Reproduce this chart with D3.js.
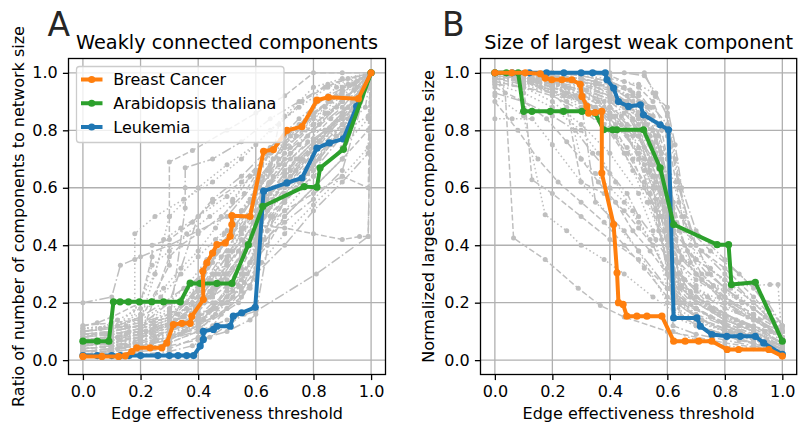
<!DOCTYPE html>
<html>
<head>
<meta charset="utf-8">
<script src="https://cdn.jsdelivr.net/npm/d3@7"></script>
<style>
  html, body { margin: 0; padding: 0; background: #fff; }
  svg { display: block; font-family: "DejaVu Sans", sans-serif; }
</style>
</head>
<body>
<svg id="chart" width="799" height="430"></svg>
<script>
// ---------------- DATA ----------------
const tickValues = [0.0, 0.2, 0.4, 0.6, 0.8, 1.0];
const seriesNames = ["Breast Cancer", "Arabidopsis thaliana", "Leukemia"];

// Panel A – ratio of number of weakly connected components to network size
const breastA_x = [0,0.066,0.124,0.147,0.17,0.187,0.233,0.274,0.291,0.314,0.343,0.372,0.378,0.418,0.416,0.43,0.45,0.465,0.494,0.511,0.517,0.517,0.58,0.627,0.661,0.708,0.76,0.812,0.852,0.956,1.0];
const breastA_y = [0.013,0.013,0.013,0.015,0.03,0.043,0.043,0.043,0.06,0.124,0.128,0.128,0.153,0.211,0.309,0.339,0.373,0.402,0.408,0.431,0.472,0.503,0.5,0.727,0.733,0.8,0.813,0.905,0.915,0.91,1.0];
const arabA_x = [0,0.05,0.09,0.106,0.129,0.158,0.196,0.239,0.28,0.338,0.372,0.407,0.465,0.517,0.574,0.624,0.768,0.812,0.823,0.904,1.0];
const arabA_y = [0.066,0.066,0.066,0.203,0.203,0.203,0.203,0.203,0.203,0.203,0.268,0.267,0.267,0.267,0.402,0.535,0.604,0.602,0.669,0.734,1.0];
const leukA_x = [0,0.05,0.1,0.13,0.16,0.2,0.26,0.3,0.33,0.36,0.384,0.407,0.418,0.418,0.453,0.465,0.511,0.522,0.551,0.598,0.627,0.708,0.76,0.812,0.855,0.904,0.95,1.0];
const leukA_y = [0.016,0.016,0.016,0.016,0.016,0.016,0.016,0.016,0.016,0.016,0.016,0.049,0.072,0.1,0.107,0.118,0.118,0.153,0.165,0.184,0.588,0.617,0.634,0.738,0.756,0.77,0.883,1.0];

// Panel B – normalized size of the largest weak component
const breastB_x = [0,0.059,0.106,0.158,0.175,0.198,0.233,0.268,0.297,0.303,0.32,0.326,0.349,0.372,0.372,0.413,0.425,0.43,0.446,0.459,0.494,0.529,0.581,0.622,0.662,0.709,0.755,0.808,0.848,0.953,1.0];
const breastB_y = [1.0,1.0,1.0,0.997,0.982,0.976,0.976,0.976,0.96,0.918,0.883,0.86,0.862,0.866,0.651,0.472,0.304,0.2,0.194,0.153,0.153,0.153,0.153,0.066,0.066,0.066,0.066,0.037,0.037,0.037,0.014];
const arabB_x = [0,0.04,0.081,0.1,0.129,0.193,0.239,0.303,0.349,0.378,0.41,0.424,0.517,0.575,0.622,0.773,0.813,0.823,0.906,1.0];
const arabB_y = [1.0,1.0,1.0,0.866,0.866,0.866,0.866,0.866,0.86,0.802,0.802,0.802,0.802,0.669,0.472,0.402,0.402,0.263,0.271,0.066];
const leukB_x = [0,0.06,0.12,0.18,0.24,0.3,0.34,0.384,0.39,0.413,0.43,0.465,0.506,0.517,0.575,0.604,0.622,0.703,0.715,0.755,0.807,0.854,0.906,0.935,1.0];
const leukB_y = [1.0,1.0,1.0,1.0,1.0,1.0,1.0,1.0,0.976,0.947,0.9,0.883,0.889,0.854,0.819,0.802,0.147,0.147,0.118,0.089,0.083,0.083,0.083,0.06,0.02];

// Background networks (grey), panel A
const greyA = [
  [[0,0.03],[0.1,0.04],[0.2,0.05],[0.3,0.07],[0.4,0.12],[0.5,0.25],[0.55,0.35],[0.6,0.45],[0.7,0.6],[0.8,0.72],[0.9,0.85],[1,1]],
  [[0,0.06],[0.1,0.07],[0.2,0.09],[0.3,0.12],[0.36,0.18],[0.42,0.26],[0.5,0.38],[0.58,0.5],[0.62,0.62],[0.72,0.72],[0.82,0.82],[0.92,0.92],[1,1]],
  [[0,0.1],[0.12,0.12],[0.2,0.15],[0.28,0.2],[0.35,0.25],[0.42,0.3],[0.5,0.42],[0.6,0.55],[0.7,0.7],[0.8,0.8],[0.9,0.9],[1,1]],
  [[0,0.02],[0.1,0.02],[0.2,0.03],[0.3,0.04],[0.4,0.08],[0.45,0.12],[0.5,0.18],[0.55,0.22],[0.6,0.3],[0.65,0.5],[0.75,0.62],[0.85,0.75],[0.95,0.9],[1,1]],
  [[0,0.08],[0.08,0.09],[0.16,0.1],[0.25,0.12],[0.33,0.16],[0.4,0.22],[0.47,0.3],[0.55,0.42],[0.6,0.52],[0.66,0.64],[0.75,0.75],[0.85,0.86],[0.95,0.95],[1,1]],
  [[0,0.2],[0.1,0.22],[0.13,0.33],[0.2,0.36],[0.3,0.4],[0.4,0.45],[0.5,0.5],[0.6,0.62],[0.7,0.75],[0.8,0.85],[0.9,0.95],[1,1]],
  [[0,0.12],[0.1,0.13],[0.2,0.14],[0.3,0.33],[0.3,0.5],[0.3,0.69],[0.38,0.73],[0.5,0.8],[0.6,0.86],[0.7,0.92],[0.8,1.0],[0.9,1.0],[1,1]],
  [[0,0.04],[0.1,0.05],[0.18,0.06],[0.18,0.35],[0.18,0.44],[0.25,0.5],[0.35,0.56],[0.45,0.62],[0.55,0.7],[0.65,0.8],[0.75,0.88],[0.85,0.95],[1,1]],
  [[0,0.02],[0.2,0.05],[0.4,0.1],[0.5,0.14],[0.6,0.17],[0.81,0.3],[0.99,0.43],[1,1]],
  [[0,0.05],[0.2,0.08],[0.35,0.15],[0.45,0.3],[0.52,0.38],[0.6,0.47],[0.7,0.46],[0.8,0.44],[0.9,0.42],[0.96,0.43],[0.99,0.43],[1,1]],
  [[0,0.07],[0.1,0.08],[0.2,0.1],[0.3,0.14],[0.38,0.2],[0.44,0.28],[0.5,0.34],[0.56,0.4],[0.62,0.5],[0.7,0.58],[0.8,0.68],[0.88,0.78],[0.99,0.85],[1,1]],
  [[0,0.09],[0.1,0.1],[0.2,0.12],[0.3,0.16],[0.4,0.24],[0.48,0.36],[0.55,0.46],[0.6,0.55],[0.65,0.62],[0.72,0.7],[0.8,0.77],[0.9,0.84],[1,1]],
  [[0,0.05],[0.1,0.06],[0.2,0.08],[0.3,0.1],[0.4,0.16],[0.5,0.2],[0.58,0.25],[0.62,0.4],[0.7,0.5],[0.8,0.6],[0.9,0.7],[1,1]],
  [[0,0.11],[0.1,0.12],[0.2,0.16],[0.27,0.22],[0.34,0.3],[0.4,0.36],[0.46,0.42],[0.52,0.48],[0.58,0.55],[0.64,0.66],[0.72,0.78],[0.8,0.88],[0.88,0.95],[1,1]],
  [[0,0.01],[0.1,0.02],[0.2,0.02],[0.3,0.03],[0.38,0.05],[0.44,0.08],[0.5,0.12],[0.56,0.16],[0.6,0.2],[0.62,0.45],[0.7,0.55],[0.8,0.66],[0.9,0.78],[1,1]],
  [[0,0.04],[0.15,0.05],[0.25,0.08],[0.35,0.12],[0.42,0.2],[0.5,0.3],[0.56,0.38],[0.6,0.44],[0.66,0.56],[0.74,0.66],[0.82,0.76],[0.9,0.86],[0.97,0.93],[1,1]],
  [[0,0.08],[0.1,0.1],[0.2,0.2],[0.24,0.33],[0.3,0.38],[0.36,0.44],[0.44,0.5],[0.52,0.56],[0.6,0.66],[0.7,0.76],[0.8,0.84],[0.9,0.92],[1,1]],
  [[0,0.06],[0.1,0.07],[0.2,0.09],[0.3,0.13],[0.355,0.53],[0.355,0.6],[0.355,0.67],[0.45,0.7],[0.55,0.76],[0.65,0.84],[0.75,0.9],[0.85,0.96],[1,1]],
  [[0,0.03],[0.1,0.03],[0.2,0.04],[0.3,0.06],[0.4,0.1],[0.45,0.15],[0.5,0.22],[0.55,0.3],[0.6,0.36],[0.64,0.6],[0.7,0.68],[0.78,0.76],[0.86,0.84],[0.94,0.9],[1,1]],
  [[0,0.1],[0.1,0.11],[0.2,0.13],[0.3,0.18],[0.4,0.28],[0.5,0.45],[0.55,0.52],[0.6,0.6],[0.68,0.7],[0.76,0.8],[0.84,0.88],[0.92,0.96],[1,1]],
  [[0,0.06],[0.2,0.07],[0.3,0.1],[0.4,0.15],[0.5,0.22],[0.6,0.3],[0.7,0.4],[0.8,0.52],[0.9,0.62],[0.99,0.72],[1,1]],
  [[0,0.12],[0.05,0.13],[0.1,0.15],[0.2,0.2],[0.24,0.36],[0.24,0.4],[0.3,0.42],[0.38,0.48],[0.45,0.55],[0.55,0.62],[0.65,0.72],[0.75,0.82],[0.85,0.9],[1,1]],
  [[0,0.07],[0.12,0.08],[0.22,0.1],[0.32,0.14],[0.4,0.19],[0.46,0.25],[0.52,0.32],[0.58,0.4],[0.62,0.5],[0.68,0.6],[0.76,0.7],[0.84,0.8],[0.92,0.88],[1,1]],
  [[0,0.02],[0.1,0.03],[0.2,0.04],[0.3,0.05],[0.4,0.07],[0.5,0.1],[0.58,0.14],[0.6,0.16],[0.66,0.5],[0.74,0.6],[0.82,0.7],[0.9,0.8],[0.98,0.88],[1,1]],
  [[0,0.09],[0.1,0.1],[0.2,0.12],[0.3,0.15],[0.4,0.2],[0.48,0.27],[0.55,0.35],[0.62,0.45],[0.7,0.52],[0.8,0.58],[0.9,0.64],[0.99,0.6],[1,1]],
  [[0,0.05],[0.1,0.06],[0.2,0.07],[0.3,0.09],[0.4,0.14],[0.46,0.2],[0.52,0.27],[0.58,0.34],[0.62,0.42],[0.7,0.52],[0.8,0.64],[0.9,0.74],[0.99,0.84],[1,1]],
  [[0,0.08],[0.1,0.09],[0.2,0.11],[0.3,0.15],[0.4,0.25],[0.45,0.34],[0.5,0.42],[0.55,0.5],[0.6,0.58],[0.65,0.68],[0.7,0.76],[0.78,0.84],[0.86,0.9],[0.94,0.96],[1,1]],
  [[0,0.04],[0.15,0.05],[0.3,0.08],[0.4,0.12],[0.5,0.18],[0.55,0.24],[0.6,0.32],[0.64,0.45],[0.7,0.55],[0.78,0.65],[0.86,0.75],[0.94,0.85],[1,1]],
  [[0,0.1],[0.06,0.11],[0.12,0.14],[0.2,0.18],[0.28,0.25],[0.34,0.32],[0.4,0.38],[0.46,0.46],[0.52,0.55],[0.58,0.64],[0.64,0.72],[0.72,0.8],[0.8,0.86],[0.9,0.93],[1,1]],
  [[0,0.03],[0.1,0.04],[0.2,0.05],[0.3,0.08],[0.4,0.13],[0.48,0.2],[0.55,0.3],[0.6,0.38],[0.63,0.55],[0.7,0.65],[0.8,0.75],[0.9,0.85],[1,1]],
  [[0,0.06],[0.2,0.08],[0.3,0.36],[0.34,0.4],[0.4,0.44],[0.48,0.5],[0.56,0.58],[0.62,0.68],[0.7,0.78],[0.8,0.86],[0.9,0.94],[1,1]],
  [[0,0.11],[0.1,0.12],[0.2,0.14],[0.25,0.3],[0.28,0.42],[0.34,0.46],[0.4,0.5],[0.5,0.57],[0.6,0.65],[0.7,0.74],[0.8,0.82],[0.9,0.9],[1,1]],
  [[0,0.05],[0.2,0.06],[0.35,0.1],[0.45,0.2],[0.5,0.35],[0.6,0.48],[0.7,0.62],[0.8,0.74],[0.9,0.86],[0.99,0.95],[1,1]],
  [[0,0.07],[0.15,0.09],[0.3,0.12],[0.4,0.2],[0.48,0.28],[0.55,0.36],[0.6,0.42],[0.68,0.82],[0.76,0.9],[0.84,0.95],[0.92,0.98],[1,1]],
  [[0,0.04],[0.1,0.05],[0.2,0.07],[0.3,0.1],[0.4,0.18],[0.45,0.25],[0.5,0.33],[0.55,0.45],[0.6,0.55],[0.65,0.62],[0.75,0.7],[0.85,0.8],[0.95,0.9],[1,1]],
  [[0,0.06],[0.1,0.06],[0.2,0.08],[0.3,0.11],[0.38,0.15],[0.44,0.22],[0.5,0.28],[0.56,0.36],[0.6,0.48],[0.62,0.58],[0.7,0.66],[0.8,0.76],[0.9,0.86],[1,1]],
  [[0,0.09],[0.1,0.09],[0.2,0.11],[0.3,0.14],[0.38,0.22],[0.43,0.32],[0.48,0.4],[0.53,0.47],[0.58,0.56],[0.62,0.64],[0.7,0.74],[0.8,0.82],[0.9,0.9],[1,1]],
  [[0,0.03],[0.12,0.04],[0.24,0.06],[0.34,0.09],[0.42,0.14],[0.48,0.2],[0.54,0.26],[0.58,0.34],[0.61,0.46],[0.64,0.55],[0.72,0.64],[0.82,0.74],[0.92,0.84],[1,1]],
  [[0,0.07],[0.1,0.08],[0.2,0.09],[0.3,0.12],[0.4,0.2],[0.46,0.3],[0.51,0.38],[0.56,0.46],[0.6,0.52],[0.66,0.6],[0.74,0.7],[0.84,0.8],[0.94,0.9],[1,1]],
  [[0,0.1],[0.1,0.11],[0.2,0.12],[0.3,0.15],[0.36,0.2],[0.42,0.3],[0.47,0.38],[0.52,0.44],[0.57,0.5],[0.61,0.6],[0.68,0.68],[0.78,0.78],[0.88,0.88],[1,1]],
  [[0,0.02],[0.1,0.03],[0.2,0.04],[0.3,0.06],[0.4,0.1],[0.46,0.16],[0.52,0.22],[0.57,0.3],[0.6,0.4],[0.63,0.5],[0.7,0.58],[0.8,0.68],[0.9,0.8],[1,1]],
  [[0,0.05],[0.1,0.06],[0.2,0.08],[0.3,0.12],[0.39,0.18],[0.44,0.24],[0.49,0.3],[0.54,0.38],[0.59,0.48],[0.62,0.56],[0.7,0.62],[0.8,0.72],[0.9,0.82],[1,1]],
  [[0,0.08],[0.1,0.09],[0.2,0.1],[0.3,0.13],[0.4,0.17],[0.45,0.22],[0.5,0.26],[0.55,0.32],[0.6,0.42],[0.64,0.52],[0.72,0.62],[0.8,0.7],[0.9,0.8],[1,1]],
  [[0,0.11],[0.1,0.12],[0.2,0.14],[0.3,0.2],[0.37,0.27],[0.43,0.35],[0.49,0.44],[0.55,0.52],[0.6,0.6],[0.66,0.7],[0.74,0.78],[0.84,0.86],[0.94,0.94],[1,1]],
  [[0,0.04],[0.1,0.05],[0.2,0.06],[0.3,0.08],[0.4,0.11],[0.48,0.16],[0.54,0.2],[0.58,0.26],[0.6,0.3],[0.62,0.62],[0.7,0.72],[0.8,0.8],[0.9,0.88],[1,1]],
  [[0,0.06],[0.1,0.07],[0.2,0.09],[0.3,0.11],[0.4,0.15],[0.46,0.18],[0.52,0.24],[0.56,0.3],[0.6,0.38],[0.62,0.48],[0.7,0.56],[0.8,0.64],[0.9,0.74],[1,1]],
  [[0,0.09],[0.1,0.1],[0.2,0.12],[0.3,0.17],[0.4,0.26],[0.45,0.3],[0.5,0.36],[0.55,0.44],[0.6,0.5],[0.65,0.58],[0.72,0.66],[0.8,0.74],[0.9,0.82],[1,1]],
  [[0,0.03],[0.1,0.04],[0.2,0.05],[0.3,0.07],[0.4,0.12],[0.45,0.18],[0.5,0.24],[0.55,0.28],[0.6,0.34],[0.63,0.42],[0.7,0.48],[0.8,0.56],[0.9,0.66],[1,1]],
  [[0,0.07],[0.1,0.08],[0.2,0.1],[0.3,0.13],[0.4,0.18],[0.45,0.23],[0.5,0.3],[0.55,0.37],[0.6,0.45],[0.65,0.66],[0.72,0.74],[0.8,0.82],[0.9,0.9],[1,1]],
  [[0,0.05],[0.1,0.06],[0.2,0.07],[0.3,0.09],[0.4,0.13],[0.44,0.17],[0.5,0.2],[0.55,0.25],[0.6,0.28],[0.62,0.34],[0.7,0.44],[0.8,0.54],[0.9,0.64],[0.99,0.74],[1,1]],
  [[0,0.1],[0.1,0.11],[0.2,0.13],[0.3,0.16],[0.4,0.22],[0.45,0.27],[0.5,0.33],[0.56,0.41],[0.6,0.47],[0.64,0.56],[0.7,0.64],[0.78,0.72],[0.86,0.8],[0.94,0.88],[1,1]],
  [[0,0.06],[0.1,0.07],[0.2,0.08],[0.3,0.1],[0.4,0.14],[0.5,0.2],[0.56,0.27],[0.6,0.35],[0.64,0.4],[0.7,0.5],[0.8,0.6],[0.9,0.7],[0.99,0.8],[1,1]],
  [[0,0.1],[0.15,0.12],[0.25,0.3],[0.3,0.5],[0.4,0.6],[0.5,0.68],[0.6,0.75],[0.7,0.85],[0.8,0.95],[0.9,0.98],[1,1]],
  [[0,0.08],[0.2,0.12],[0.3,0.2],[0.4,0.5],[0.45,0.56],[0.55,0.64],[0.65,0.74],[0.75,0.84],[0.85,0.92],[0.95,0.97],[1,1]]
];

// Background networks (grey), panel B
const greyB = [
  [[0,1],[0.036,0.93],[0.065,0.425],[0.175,0.35],[0.29,0.25],[0.367,0.19],[0.45,0.15],[0.6,0.1],[0.8,0.06],[1,0.03]],
  [[0,0.84],[0.06,0.84],[0.13,0.84],[0.2,0.75],[0.3,0.62],[0.4,0.5],[0.5,0.38],[0.6,0.2],[0.7,0.14],[0.8,0.1],[0.9,0.07],[1,0.04]],
  [[0,1],[0.1,0.99],[0.2,0.97],[0.3,0.95],[0.4,0.92],[0.45,0.88],[0.5,0.8],[0.55,0.6],[0.6,0.3],[0.65,0.2],[0.75,0.15],[0.85,0.1],[0.95,0.06],[1,0.03]],
  [[0,1],[0.1,1],[0.2,0.99],[0.3,0.98],[0.4,0.96],[0.48,0.93],[0.54,0.85],[0.58,0.7],[0.62,0.45],[0.7,0.35],[0.8,0.28],[0.9,0.2],[1,0.1]],
  [[0,0.97],[0.1,0.95],[0.2,0.9],[0.3,0.82],[0.4,0.72],[0.5,0.58],[0.55,0.45],[0.6,0.25],[0.7,0.15],[0.8,0.1],[0.9,0.07],[1,0.04]],
  [[0,1],[0.12,0.98],[0.22,0.96],[0.32,0.94],[0.42,0.9],[0.5,0.86],[0.56,0.78],[0.6,0.6],[0.62,0.3],[0.7,0.22],[0.8,0.16],[0.9,0.12],[1,0.06]],
  [[0,0.95],[0.1,0.9],[0.18,0.84],[0.25,0.76],[0.3,0.7],[0.36,0.62],[0.42,0.55],[0.48,0.45],[0.54,0.38],[0.6,0.3],[0.7,0.2],[0.8,0.14],[0.9,0.1],[1,0.05]],
  [[0,0.92],[0.1,0.85],[0.175,0.506],[0.25,0.45],[0.3,0.4],[0.38,0.35],[0.45,0.3],[0.55,0.22],[0.65,0.15],[0.8,0.1],[1,0.05]],
  [[0,1],[0.1,1],[0.2,1],[0.3,1],[0.4,1],[0.52,1],[0.558,0.918],[0.6,0.88],[0.627,0.75],[0.65,0.6],[0.7,0.45],[0.8,0.35],[0.9,0.25],[1,0.12]],
  [[0,0.98],[0.1,0.96],[0.129,0.628],[0.2,0.58],[0.3,0.5],[0.4,0.42],[0.5,0.35],[0.6,0.25],[0.7,0.18],[0.8,0.12],[0.9,0.08],[1,0.03]],
  [[0,1],[0.1,0.99],[0.2,0.98],[0.3,0.96],[0.4,0.93],[0.45,0.9],[0.5,0.84],[0.55,0.75],[0.6,0.55],[0.63,0.35],[0.7,0.26],[0.8,0.26],[0.9,0.26],[0.957,0.263],[0.985,0.263],[1,0.05]],
  [[0,1],[0.15,0.97],[0.25,0.93],[0.35,0.88],[0.42,0.82],[0.5,0.72],[0.56,0.6],[0.6,0.45],[0.64,0.3],[0.7,0.2],[0.8,0.14],[0.9,0.1],[1,0.05]],
  [[0,1],[0.1,0.98],[0.2,0.95],[0.3,0.9],[0.38,0.82],[0.45,0.72],[0.52,0.6],[0.58,0.5],[0.62,0.4],[0.7,0.3],[0.78,0.22],[0.88,0.15],[1,0.08]],
  [[0,0.99],[0.08,0.97],[0.16,0.95],[0.24,0.92],[0.32,0.88],[0.4,0.84],[0.46,0.78],[0.52,0.7],[0.56,0.62],[0.6,0.5],[0.62,0.1],[0.7,0.07],[0.8,0.05],[0.9,0.04],[1,0.02]],
  [[0,1],[0.1,1],[0.2,0.99],[0.3,0.97],[0.4,0.95],[0.48,0.92],[0.55,0.88],[0.6,0.82],[0.64,0.6],[0.7,0.4],[0.8,0.3],[0.9,0.2],[1,0.1]],
  [[0,1],[0.05,0.99],[0.12,0.97],[0.2,0.95],[0.28,0.92],[0.35,0.88],[0.42,0.8],[0.48,0.7],[0.54,0.55],[0.6,0.35],[0.65,0.15],[0.75,0.1],[0.85,0.07],[1,0.03]],
  [[0,0.96],[0.1,0.93],[0.2,0.88],[0.3,0.8],[0.36,0.72],[0.42,0.62],[0.48,0.52],[0.54,0.42],[0.6,0.3],[0.68,0.22],[0.76,0.17],[0.86,0.13],[0.96,0.1],[1,0.06]],
  [[0,1],[0.1,0.99],[0.2,0.96],[0.3,0.9],[0.35,0.55],[0.4,0.5],[0.45,0.45],[0.5,0.38],[0.6,0.25],[0.7,0.18],[0.8,0.12],[1,0.05]],
  [[0,1],[0.1,1],[0.2,0.98],[0.3,0.96],[0.4,0.92],[0.45,0.88],[0.5,0.82],[0.55,0.72],[0.58,0.6],[0.6,0.5],[0.62,0.25],[0.7,0.18],[0.8,0.13],[0.9,0.09],[1,0.05]],
  [[0,1],[0.1,0.98],[0.2,0.94],[0.25,0.9],[0.3,0.7],[0.35,0.65],[0.4,0.6],[0.45,0.55],[0.5,0.48],[0.55,0.4],[0.6,0.3],[0.7,0.2],[0.8,0.15],[0.9,0.1],[1,0.05]],
  [[0,0.98],[0.1,0.97],[0.2,0.94],[0.3,0.9],[0.4,0.85],[0.5,0.78],[0.55,0.7],[0.6,0.6],[0.65,0.5],[0.7,0.4],[0.75,0.3],[0.8,0.25],[0.9,0.18],[1,0.1]],
  [[0,1],[0.2,1],[0.3,0.99],[0.4,0.97],[0.45,0.95],[0.5,0.92],[0.55,0.85],[0.6,0.7],[0.62,0.55],[0.66,0.4],[0.72,0.3],[0.8,0.22],[0.9,0.15],[1,0.08]],
  [[0,1],[0.1,1],[0.2,0.99],[0.3,0.98],[0.35,0.97],[0.4,0.95],[0.5,0.9],[0.55,0.8],[0.58,0.65],[0.6,0.4],[0.62,0.15],[0.7,0.12],[0.8,0.09],[0.9,0.07],[1,0.04]],
  [[0,0.93],[0.1,0.9],[0.2,0.85],[0.28,0.8],[0.34,0.72],[0.4,0.65],[0.46,0.58],[0.5,0.5],[0.56,0.42],[0.62,0.32],[0.7,0.24],[0.8,0.18],[0.9,0.14],[1,0.1]],
  [[0,1],[0.1,0.99],[0.2,0.97],[0.3,0.94],[0.38,0.9],[0.44,0.85],[0.5,0.78],[0.54,0.7],[0.58,0.58],[0.6,0.45],[0.63,0.2],[0.7,0.15],[0.8,0.11],[0.9,0.08],[1,0.05]],
  [[0,1],[0.1,1],[0.2,1],[0.3,0.99],[0.4,0.98],[0.5,0.96],[0.55,0.93],[0.6,0.86],[0.63,0.7],[0.66,0.5],[0.7,0.35],[0.8,0.28],[0.9,0.2],[1,0.12]],
  [[0,1],[0.12,1],[0.22,0.98],[0.3,0.95],[0.36,0.9],[0.42,0.85],[0.48,0.78],[0.54,0.68],[0.58,0.55],[0.6,0.42],[0.62,0.12],[0.7,0.09],[0.8,0.07],[0.9,0.05],[1,0.03]],
  [[0,0.9],[0.08,0.8],[0.15,0.7],[0.22,0.62],[0.3,0.55],[0.38,0.48],[0.45,0.4],[0.52,0.32],[0.6,0.22],[0.7,0.15],[0.8,0.1],[1,0.05]],
  [[0,1],[0.1,0.99],[0.2,0.97],[0.3,0.94],[0.4,0.9],[0.5,0.85],[0.56,0.78],[0.6,0.7],[0.64,0.55],[0.68,0.4],[0.75,0.32],[0.82,0.25],[0.9,0.18],[1,0.1]],
  [[0,0.99],[0.1,0.98],[0.2,0.96],[0.3,0.93],[0.4,0.88],[0.46,0.82],[0.52,0.74],[0.56,0.64],[0.6,0.52],[0.62,0.35],[0.66,0.28],[0.74,0.22],[0.84,0.17],[0.94,0.12],[1,0.08]],
  [[0,1],[0.1,1],[0.2,1],[0.3,1],[0.4,0.99],[0.45,0.97],[0.5,0.95],[0.55,0.9],[0.6,0.78],[0.63,0.62],[0.66,0.45],[0.72,0.38],[0.8,0.32],[0.9,0.22],[1,0.11]],
  [[0,0.97],[0.1,0.96],[0.2,0.93],[0.3,0.88],[0.4,0.8],[0.46,0.74],[0.52,0.66],[0.57,0.5],[0.6,0.32],[0.65,0.25],[0.75,0.18],[0.85,0.12],[1,0.06]],
  [[0,1],[0.1,1],[0.2,0.99],[0.3,0.97],[0.4,0.93],[0.45,0.88],[0.5,0.78],[0.54,0.66],[0.58,0.5],[0.61,0.32],[0.64,0.2],[0.72,0.14],[0.82,0.1],[0.92,0.07],[1,0.04]],
  [[0,1],[0.1,0.99],[0.2,0.98],[0.3,0.96],[0.4,0.94],[0.46,0.9],[0.52,0.82],[0.56,0.72],[0.6,0.55],[0.62,0.4],[0.66,0.28],[0.74,0.2],[0.84,0.14],[0.94,0.1],[1,0.05]],
  [[0,0.99],[0.1,0.98],[0.2,0.96],[0.3,0.92],[0.38,0.88],[0.44,0.82],[0.5,0.72],[0.55,0.6],[0.59,0.45],[0.62,0.3],[0.68,0.22],[0.78,0.16],[0.88,0.12],[1,0.06]],
  [[0,1],[0.1,1],[0.2,1],[0.3,0.99],[0.4,0.97],[0.47,0.94],[0.53,0.88],[0.57,0.78],[0.6,0.62],[0.62,0.45],[0.65,0.35],[0.72,0.28],[0.82,0.2],[0.92,0.14],[1,0.08]],
  [[0,1],[0.1,0.99],[0.2,0.97],[0.3,0.93],[0.4,0.86],[0.45,0.8],[0.5,0.7],[0.54,0.58],[0.58,0.42],[0.61,0.25],[0.65,0.15],[0.75,0.1],[0.85,0.07],[1,0.04]],
  [[0,0.98],[0.1,0.97],[0.2,0.95],[0.3,0.92],[0.4,0.88],[0.48,0.84],[0.54,0.76],[0.58,0.66],[0.6,0.56],[0.62,0.4],[0.64,0.3],[0.7,0.25],[0.8,0.2],[0.9,0.15],[1,0.08]],
  [[0,1],[0.1,1],[0.2,0.99],[0.3,0.98],[0.4,0.95],[0.46,0.92],[0.5,0.86],[0.55,0.74],[0.58,0.62],[0.6,0.48],[0.63,0.22],[0.7,0.16],[0.8,0.12],[0.9,0.08],[1,0.04]],
  [[0,0.97],[0.1,0.95],[0.2,0.92],[0.3,0.87],[0.4,0.8],[0.46,0.72],[0.52,0.62],[0.56,0.52],[0.6,0.4],[0.63,0.3],[0.68,0.24],[0.76,0.18],[0.86,0.13],[0.96,0.1],[1,0.07]],
  [[0,1],[0.1,1],[0.2,0.98],[0.3,0.96],[0.4,0.92],[0.44,0.9],[0.5,0.84],[0.54,0.78],[0.58,0.7],[0.61,0.58],[0.63,0.42],[0.68,0.34],[0.76,0.26],[0.86,0.2],[0.96,0.14],[1,0.1]],
  [[0,1],[0.1,0.98],[0.2,0.96],[0.3,0.93],[0.4,0.9],[0.45,0.86],[0.5,0.8],[0.55,0.68],[0.59,0.52],[0.62,0.18],[0.7,0.12],[0.8,0.09],[0.9,0.06],[1,0.03]],
  [[0,0.99],[0.1,0.97],[0.2,0.94],[0.3,0.9],[0.4,0.84],[0.46,0.78],[0.52,0.68],[0.56,0.56],[0.6,0.42],[0.64,0.34],[0.7,0.28],[0.8,0.22],[0.9,0.16],[1,0.1]],
  [[0,1],[0.1,1],[0.2,0.99],[0.3,0.97],[0.4,0.94],[0.45,0.9],[0.52,0.84],[0.56,0.76],[0.6,0.64],[0.62,0.5],[0.64,0.38],[0.7,0.3],[0.8,0.24],[0.9,0.18],[1,0.1]],
  [[0,0.96],[0.1,0.95],[0.2,0.93],[0.3,0.9],[0.4,0.86],[0.5,0.8],[0.55,0.72],[0.6,0.62],[0.64,0.45],[0.7,0.3],[0.8,0.2],[0.9,0.14],[1,0.08]],
  [[0,1],[0.15,0.99],[0.25,0.98],[0.35,0.96],[0.42,0.94],[0.48,0.9],[0.53,0.82],[0.57,0.7],[0.6,0.5],[0.62,0.28],[0.66,0.2],[0.75,0.15],[0.85,0.1],[1,0.05]],
  [[0,1],[0.1,0.99],[0.2,0.96],[0.3,0.92],[0.36,0.86],[0.42,0.78],[0.48,0.66],[0.53,0.55],[0.57,0.45],[0.6,0.36],[0.65,0.26],[0.75,0.18],[0.85,0.12],[1,0.06]],
  [[0,0.98],[0.1,0.97],[0.2,0.96],[0.3,0.94],[0.4,0.91],[0.5,0.86],[0.55,0.8],[0.58,0.72],[0.61,0.6],[0.63,0.48],[0.67,0.38],[0.74,0.3],[0.84,0.22],[0.94,0.15],[1,0.1]],
  [[0,1],[0.1,1],[0.2,0.99],[0.3,0.98],[0.4,0.96],[0.5,0.93],[0.54,0.88],[0.58,0.8],[0.6,0.7],[0.62,0.55],[0.64,0.25],[0.7,0.18],[0.8,0.13],[0.9,0.09],[1,0.05]],
  [[0,0.99],[0.1,0.98],[0.2,0.95],[0.3,0.91],[0.4,0.85],[0.46,0.8],[0.5,0.74],[0.55,0.64],[0.6,0.5],[0.65,0.36],[0.72,0.28],[0.8,0.22],[0.9,0.16],[1,0.1]],
  [[0,1],[0.2,1],[0.35,1],[0.45,1],[0.52,0.99],[0.56,0.93],[0.6,0.85],[0.64,0.62],[0.68,0.45],[0.75,0.38],[0.85,0.3],[0.95,0.2],[1,0.12]],
  [[0,1],[0.1,0.97],[0.2,0.93],[0.25,0.88],[0.3,0.62],[0.38,0.58],[0.45,0.52],[0.5,0.46],[0.55,0.4],[0.6,0.3],[0.7,0.22],[0.8,0.16],[0.9,0.11],[1,0.06]]
];

// ---------------- DRAWING ----------------
const svg = d3.select("#chart");
const colors = { breast: "#ff7f0e", arab: "#2ca02c", leuk: "#1f77b4" };
const greyColor = "#bfbfbf";
const dashCycle = ["5.9,2.6", "1.6,2.6", "10,2.6,1.6,2.6"];

function zip(xs, ys) { return xs.map((x, i) => [x, ys[i]]); }

function panel(opts) {
  const { left, right, top, bottom } = opts.box;
  const x = d3.scaleLinear().domain([-0.05, 1.05]).range([left, right]);
  const y = d3.scaleLinear().domain([-0.05, 1.05]).range([bottom, top]);
  const g = svg.append("g");

  g.append("g").selectAll("line").data(tickValues).join("line")
    .attr("x1", d => x(d)).attr("x2", d => x(d)).attr("y1", top).attr("y2", bottom)
    .attr("stroke", "#b0b0b0").attr("stroke-width", 1.3);
  g.append("g").selectAll("line").data(tickValues).join("line")
    .attr("y1", d => y(d)).attr("y2", d => y(d)).attr("x1", left).attr("x2", right)
    .attr("stroke", "#b0b0b0").attr("stroke-width", 1.3);

  const clipId = "clip" + opts.id;
  svg.append("clipPath").attr("id", clipId).append("rect")
    .attr("x", left).attr("y", top).attr("width", right - left).attr("height", bottom - top);
  const plot = g.append("g").attr("clip-path", `url(#${clipId})`);
  const line = d3.line().x(d => x(d[0])).y(d => y(d[1]));

  opts.grey.forEach((pts, i) => {
    plot.append("path").attr("d", line(pts)).attr("fill", "none")
      .attr("stroke", greyColor).attr("stroke-width", 1.5)
      .attr("stroke-dasharray", dashCycle[i % dashCycle.length]);
    plot.append("g").selectAll("circle").data(pts).join("circle")
      .attr("cx", d => x(d[0])).attr("cy", d => y(d[1])).attr("r", 2.5)
      .attr("fill", greyColor);
  });

  opts.main.forEach(s => {
    plot.append("path").attr("d", line(s.pts)).attr("fill", "none")
      .attr("stroke", s.color).attr("stroke-width", 4).attr("stroke-linejoin", "round");
    plot.append("g").selectAll("circle").data(s.pts).join("circle")
      .attr("cx", d => x(d[0])).attr("cy", d => y(d[1])).attr("r", 3.6)
      .attr("fill", s.color);
  });

  const xAxis = d3.axisBottom(x).tickValues(tickValues).tickFormat(d3.format(".1f"))
    .tickSize(5.6).tickPadding(5.2);
  const yAxis = d3.axisLeft(y).tickValues(tickValues).tickFormat(d3.format(".1f"))
    .tickSize(5.6).tickPadding(5.2);
  const gx = g.append("g").attr("transform", `translate(0,${bottom})`).call(xAxis);
  const gy = g.append("g").attr("transform", `translate(${left},0)`).call(yAxis);
  [gx, gy].forEach(ax => {
    ax.select(".domain").remove();
    ax.selectAll(".tick line").attr("stroke", "#000").attr("stroke-width", 1.3);
    ax.selectAll(".tick text").attr("fill", "#000")
      .style("font-size", "16px").style("font-family", "DejaVu Sans");
  });

  g.append("rect").attr("x", left).attr("y", top).attr("width", right - left)
    .attr("height", bottom - top).attr("fill", "none").attr("stroke", "#000").attr("stroke-width", 1.3);

  g.append("text").attr("x", (left + right) / 2).attr("y", 418.5)
    .attr("text-anchor", "middle").style("font-size", "16px").text("Edge effectiveness threshold");
  g.append("text").attr("transform", `translate(${opts.ylabX},${(top + bottom) / 2}) rotate(-90)`)
    .attr("text-anchor", "middle").style("font-size", "16px").text(opts.ylabel);
  g.append("text").attr("x", (left + right) / 2).attr("y", 48.5)
    .attr("text-anchor", "middle").style("font-size", "19.3px").text(opts.title);
  g.append("text").attr("x", opts.letterX).attr("y", 35.5)
    .style("font-size", "33px").attr("fill", "#262626").text(opts.letter);

  return { x, y, g };
}

panel({
  id: "A", box: { left: 68.5, right: 385.5, top: 58.5, bottom: 374.5 },
  grey: greyA,
  main: [
    { color: colors.leuk, pts: zip(leukA_x, leukA_y) },
    { color: colors.arab, pts: zip(arabA_x, arabA_y) },
    { color: colors.breast, pts: zip(breastA_x, breastA_y) }
  ],
  ylabel: "Ratio of number of components to network size", ylabX: 24,
  title: "Weakly connected components", letter: "A", letterX: 47.5
});

panel({
  id: "B", box: { left: 480.5, right: 796.7, top: 58.5, bottom: 374.5 },
  grey: greyB,
  main: [
    { color: colors.leuk, pts: zip(leukB_x, leukB_y) },
    { color: colors.arab, pts: zip(arabB_x, arabB_y) },
    { color: colors.breast, pts: zip(breastB_x, breastB_y) }
  ],
  ylabel: "Normalized largest componente size", ylabX: 433.5,
  title: "Size of largest weak component", letter: "B", letterX: 442
});

// legend (panel A)
const legendColors = [colors.breast, colors.arab, colors.leuk];
const leg = svg.append("g");
leg.append("rect").attr("x", 76.5).attr("y", 66.5).attr("width", 207.5).attr("height", 76)
  .attr("rx", 3).attr("fill", "#fff").attr("fill-opacity", 0.8)
  .attr("stroke", "#cccccc").attr("stroke-width", 1.3);
const rowY = d3.scalePoint().domain(seriesNames).range([79.5, 127]);
seriesNames.forEach((name, i) => {
  const yy = rowY(name);
  leg.append("line").attr("x1", 81).attr("x2", 102.5).attr("y1", yy).attr("y2", yy)
    .attr("stroke", legendColors[i]).attr("stroke-width", 4);
  leg.append("circle").attr("cx", 91.7).attr("cy", yy).attr("r", 3.6).attr("fill", legendColors[i]);
  leg.append("text").attr("x", 113.3).attr("y", yy).attr("dy", "0.36em")
    .style("font-size", "16px").text(name);
});
</script>
</body>
</html>
